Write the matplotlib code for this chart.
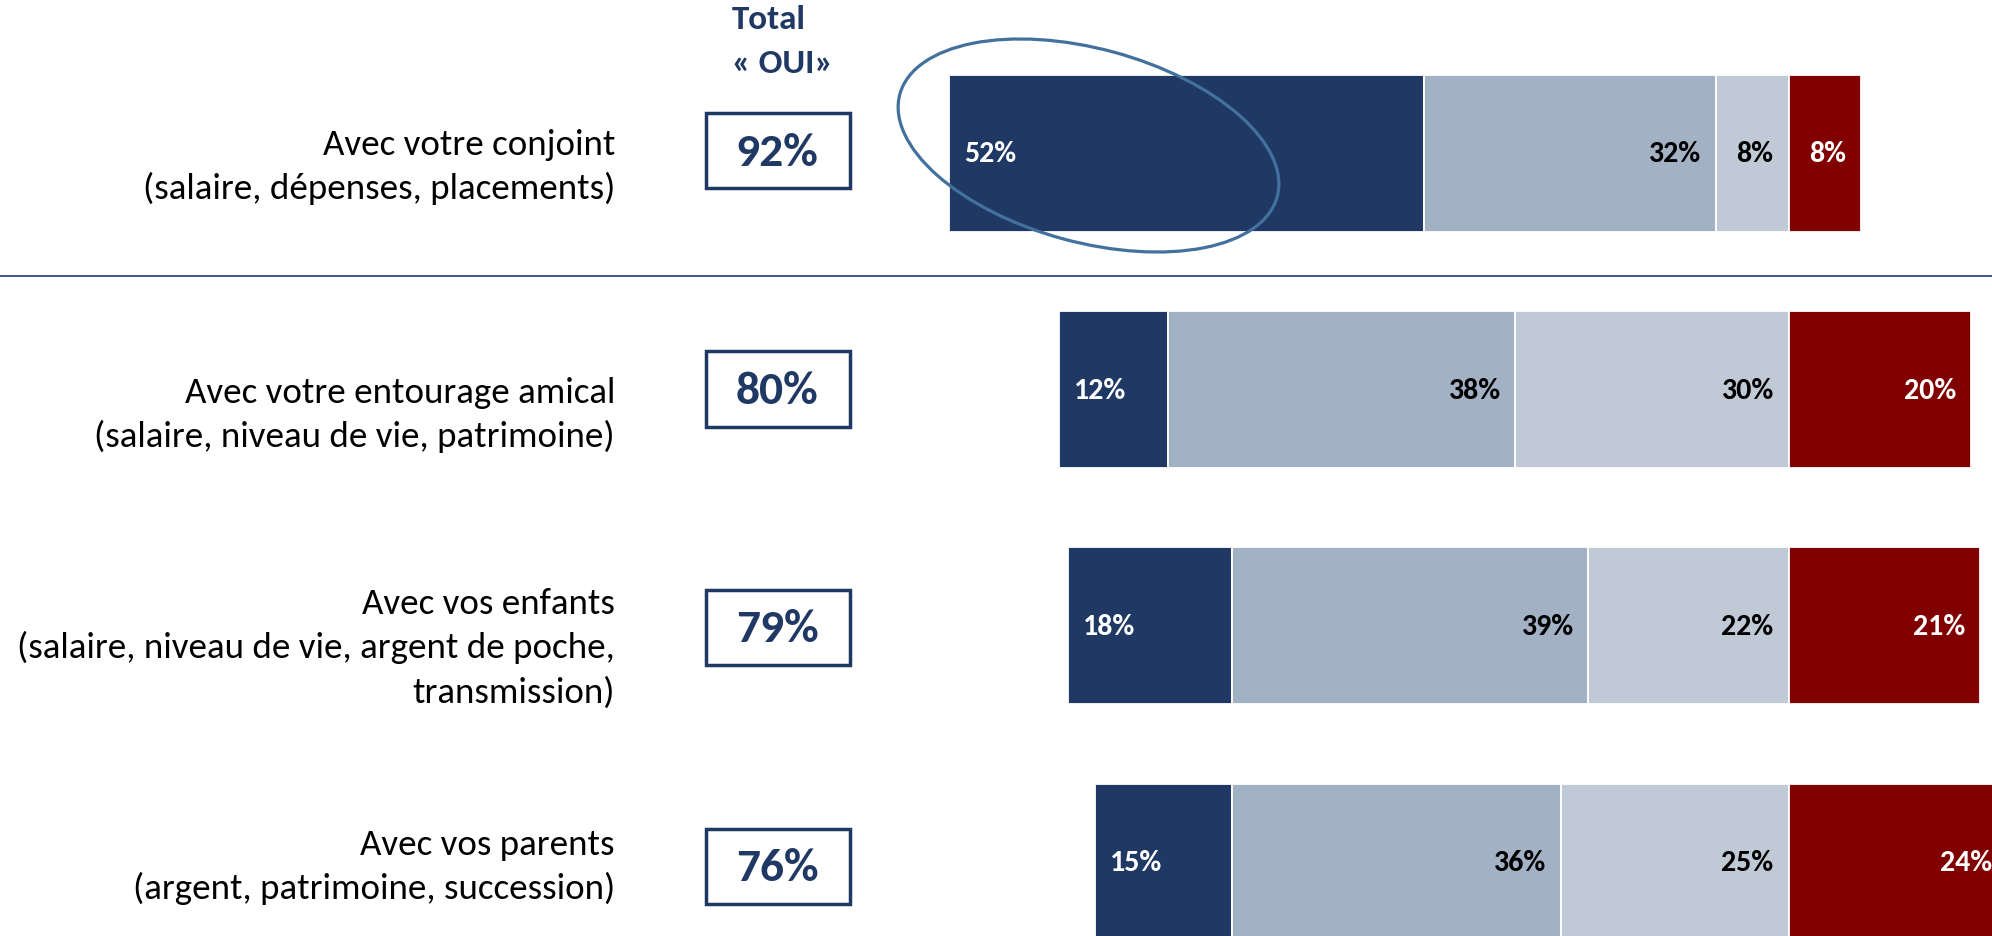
import matplotlib
matplotlib.use("Agg")
import matplotlib.pyplot as plt
from matplotlib.patches import Rectangle, Ellipse
from matplotlib import font_manager

# ---------------- data ----------------
label_lines = [
    ["Avec votre conjoint", "(salaire, dépenses, placements)"],
    ["Avec votre entourage amical", "(salaire, niveau de vie, patrimoine)"],
    ["Avec vos enfants", "(salaire, niveau de vie, argent de poche,", "transmission)"],
    ["Avec vos parents", "(argent, patrimoine, succession)"],
]
total_oui = [92, 80, 79, 76]
oui_1 = [52, 12, 18, 15]   # darkest blue
oui_2 = [32, 38, 39, 36]   # mid blue-grey
oui_3 = [8, 30, 22, 25]    # light blue-grey
non = [8, 20, 21, 24]      # red
header_lines = ["Total", "« OUI»"]

# ---------------- style ----------------
NAVY = "#203864"
MID = "#A3B1C4"
LIGHT = "#C0CAD6"
RED = "#800000"
ELLIPSE = "#41719C"

avail = {f.name for f in font_manager.fontManager.ttflist}
FAM = [f for f in ["Carlito", "Calibri", "Lato", "DejaVu Sans"] if f in avail]
plt.rcParams["font.family"] = FAM

W, H, DPI = 1992, 937, 100
fig = plt.figure(figsize=(W / DPI, H / DPI), dpi=DPI)
fig.patch.set_facecolor("white")

PX = 9.12         # pixels per percent
ZERO_X = 1788.5   # pixel x of the 0 point
Y0, DY = 154.5, 236.2
BAR_H = 157.0 / DY

ax = fig.add_axes([0, 0, 1, 1])
ax.set_xlim(-ZERO_X / PX, (W - ZERO_X) / PX)
ax.set_ylim((H - Y0) / DY, -Y0 / DY)
ax.axis("off")

pad_pt = 15 * 72 / DPI
bar_fs = 30 * 72 / DPI
for i in range(len(total_oui)):
    segs = [(oui_1[i], NAVY, "white", "left"),
            (oui_2[i], MID, "black", "right"),
            (oui_3[i], LIGHT, "black", "right")]
    left = -sum(s[0] for s in segs)
    for val, col, tcol, align in segs:
        ax.barh(i, val, left=left, height=BAR_H, color=col,
                edgecolor="white", linewidth=1.3)
        if align == "left":
            ax.annotate(f"{val}%", (left, i), xytext=(pad_pt, 0),
                        textcoords="offset points", ha="left", va="center",
                        color=tcol, fontsize=bar_fs, fontweight="bold",
                        annotation_clip=False)
        else:
            ax.annotate(f"{val}%", (left + val, i), xytext=(-pad_pt, 0),
                        textcoords="offset points", ha="right", va="center",
                        color=tcol, fontsize=bar_fs, fontweight="bold",
                        annotation_clip=False)
        left += val
    ax.barh(i, non[i], left=0, height=BAR_H, color=RED,
            edgecolor="white", linewidth=1.3)
    ax.annotate(f"{non[i]}%", (non[i], i), xytext=(-pad_pt, 0),
                textcoords="offset points", ha="right", va="center",
                color="white", fontsize=bar_fs, fontweight="bold",
                annotation_clip=False)

# ---------------- overlay in pixel coordinates ----------------
ov = fig.add_axes([0, 0, 1, 1], zorder=5)
ov.set_xlim(0, W)
ov.set_ylim(H, 0)
ov.axis("off")
ov.patch.set_alpha(0)

# separator line
ov.plot([0, W], [276.7, 276.7], color="#2E4A78", lw=1.3, solid_capstyle="butt")

# ellipse highlight
ov.add_patch(Ellipse((1088.5, 146.5), width=391, height=193.5, angle=15.2,
                     fill=False, edgecolor=ELLIPSE, lw=2.3))

# header
for j, t in enumerate(header_lines):
    ov.text(732, 29.3 + 43.4 * j, t, ha="left", va="baseline", color=NAVY,
            fontsize=35 * 72 / DPI, fontweight="bold")

# row labels
lab_fs = 37 * 72 / DPI
first_baselines = [155, 403, 614.5, 855]
LINE = 44
for i, lines in enumerate(label_lines):
    for j, t in enumerate(lines):
        ov.text(615, first_baselines[i] + LINE * j, t, ha="right",
                va="baseline", color="black", fontsize=lab_fs)

# total boxes
box_c = [151.5, 390.0, 628.5, 867.5]
for i, v in enumerate(total_oui):
    c = box_c[i]
    ov.add_patch(Rectangle((705.7, c - 37.8), 144, 75.6, fill=False,
                           edgecolor=NAVY, lw=2.5))
    ov.text(777, c + 1, f"{v}%", ha="center", va="center", color=NAVY,
            fontsize=47.5 * 72 / DPI, fontweight="bold")

fig.savefig("out.png", dpi=DPI, facecolor="white")
